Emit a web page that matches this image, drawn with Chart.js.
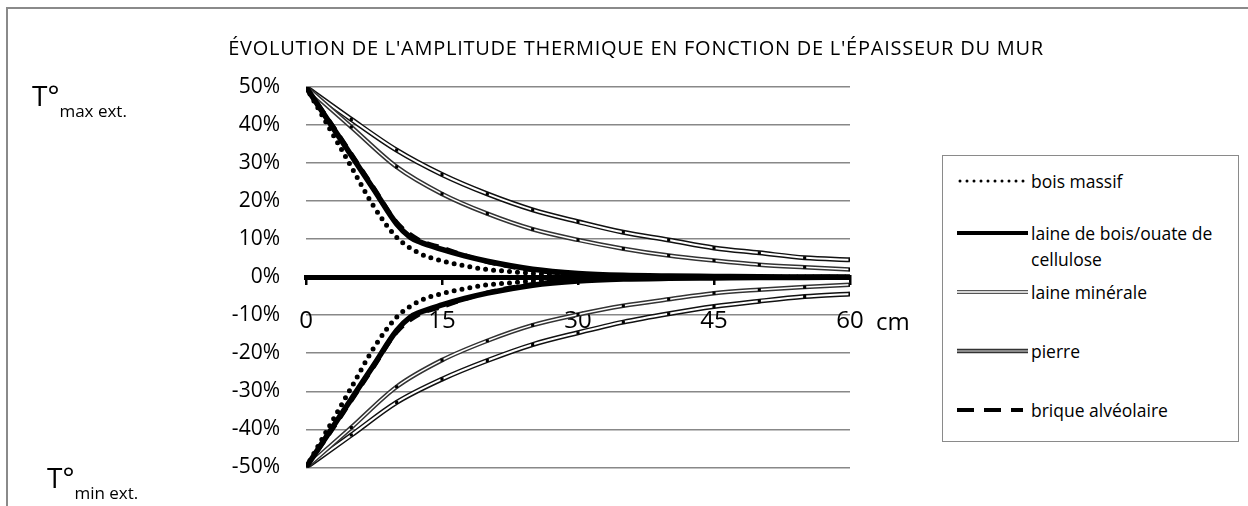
<!DOCTYPE html>
<html>
<head>
<meta charset="utf-8">
<script src="https://cdn.jsdelivr.net/npm/chart.js@4.4.1/dist/chart.umd.min.js"></script>
<style>
  html, body { margin:0; padding:0; background:#fff; }
  body { width:1248px; height:506px; position:relative; overflow:hidden; font-family:"Open Sans", sans-serif; color:#000; }
  #frame { position:absolute; left:6px; top:7px; width:1400px; height:700px; border-left:2px solid #8a8a8a; border-top:2px solid #8a8a8a; }
  #wrap { position:absolute; left:0; top:0; width:1248px; height:506px; }
  #title { position:absolute; left:0; width:1272px; top:34px; text-align:center; font-size:20px; letter-spacing:0.75px; white-space:nowrap; }
  .tlab { position:absolute; font-size:28px; line-height:1; white-space:nowrap; }
  .tlab sub { font-size:17px; vertical-align:-11px; }
  #cm { position:absolute; left:876px; top:309px; font-size:24px; line-height:1; }
  #legend { position:absolute; left:942px; top:155px; width:297px; height:287px; border:1.5px solid #8a8a8a; box-sizing:border-box; background:#fff; }
  .li { position:absolute; left:0; font-size:17.5px; line-height:26px; }
  .li svg { position:absolute; left:0; top:0; }
  .li span { position:absolute; left:88px; top:0; white-space:nowrap; }
</style>
</head>
<body>
<div id="frame"></div>
<div id="wrap"><canvas id="c" width="1248" height="506"></canvas></div>
<div id="title">ÉVOLUTION DE L'AMPLITUDE THERMIQUE EN FONCTION DE L'ÉPAISSEUR DU MUR</div>
<div class="tlab" style="left:32px;top:81px;">T°<sub>max ext.</sub></div>
<div class="tlab" style="left:47px;top:463px;">T°<sub>min ext.</sub></div>
<div id="cm">cm</div>
<div id="legend"></div>
<script>
// ---- data (x in cm, y in %) ----
const xBoisMassif = [0, 2.5, 5, 7.5, 10, 12.5, 15, 17.5, 20, 22.5, 25, 30, 35, 40, 50, 60];
const boisMassifHaut = [50, 39.5, 29, 18.5, 10.5, 6.3, 4.3, 3.0, 2.0, 1.5, 1.0, 0.5, 0.2, 0.1, 0, 0];
const boisMassifBas  = [-50, -39.5, -29, -18.5, -10.5, -6.3, -4.3, -3.0, -2.0, -1.5, -1.0, -0.5, -0.2, -0.1, 0, 0];

const xLaineBois = [0, 2.5, 5, 7.5, 10, 11.5, 12.5, 15, 17.5, 20, 25, 30, 35, 40, 45, 50, 55, 60];
const laineBoisHaut = [50, 41, 32, 23, 14, 10.5, 9.3, 7.3, 5.6, 4.2, 2.1, 1.0, 0.5, 0.3, 0.2, 0.1, 0.05, 0];
const laineBoisBas  = [-50, -41, -32, -23, -14, -10.5, -9.3, -7.3, -5.6, -4.2, -2.1, -1.0, -0.5, -0.3, -0.2, -0.1, -0.05, 0];

const x5 = [0, 5, 10, 15, 20, 25, 30, 35, 40, 45, 50, 55, 60];
const laineMineraleHaut = [50, 39.5, 29, 21.9, 16.7, 12.6, 9.8, 7.5, 5.7, 4.4, 3.3, 2.6, 2.0];
const laineMineraleBas  = [-50, -39.5, -28.8, -21.8, -16.7, -12.6, -9.8, -7.5, -5.8, -4.2, -3.3, -2.6, -2.0];
const pierreHaut = [50, 41.5, 33.4, 27, 21.9, 17.7, 14.6, 11.8, 9.8, 7.7, 6.4, 5.1, 4.6];
const pierreBas  = [-50, -41.5, -32.9, -26.8, -21.9, -17.7, -14.6, -11.8, -9.6, -7.7, -6.3, -5.1, -4.4];

const xBrique = [0, 2.5, 5, 7.5, 10, 12.5, 15, 17.5, 20, 25, 30, 35, 40, 50, 60];
const briqueHaut = [50, 41.5, 32.5, 23.5, 14.5, 9.8, 7.8, 5.8, 4.0, 1.8, 0.7, 0.3, 0.1, 0, 0];
const briqueBas  = [-50, -41.5, -32.5, -23.5, -14.5, -9.8, -7.8, -5.8, -4.0, -1.8, -0.7, -0.3, -0.1, 0, 0];

const xTicks = [0, 15, 30, 45, 60];
const yTicks = [-50, -40, -30, -20, -10, 0, 10, 20, 30, 40, 50];
const seriesNames = ["bois massif", "laine de bois/ouate de cellulose", "laine minérale", "pierre", "brique alvéolaire"];
const chartTitle = "ÉVOLUTION DE L'AMPLITUDE THERMIQUE EN FONCTION DE L'ÉPAISSEUR DU MUR";

function pts(xs, ys) { return xs.map((x, i) => ({ x: x, y: ys[i] })); }

const datasets = [];
function add(label, xs, ys, style, order) {
  datasets.push(Object.assign({
    label: label, data: pts(xs, ys), order: order,
    pointRadius: 0, fill: false, cubicInterpolationMode: 'monotone', borderCapStyle: 'butt'
  }, style));
}
// brique (bottom)
[briqueHaut, briqueBas].forEach(d => add(seriesNames[4], xBrique, d, { borderColor: '#000', borderWidth: 4, borderDash: [12, 8] }, 90));
// double lines
[[pierreHaut, pierreBas, '#111', 5, 2], [laineMineraleHaut, laineMineraleBas, '#333', 4.5, 1.5]].forEach((s, k) => {
  const name = k === 0 ? seriesNames[3] : seriesNames[2];
  [s[0], s[1]].forEach(d => {
    add(name, x5, d, { borderColor: s[2], borderWidth: s[3] }, 80 - k * 2);
    add(name, x5, d, { borderColor: '#fff', borderWidth: s[4], pointRadius: (ctx) => ctx.dataIndex === 0 ? 0 : 2.2, pointBackgroundColor: '#000', pointBorderWidth: 0, pointStyle: 'rect' }, 79 - k * 2);
  });
});
// bois massif dotted
[boisMassifHaut, boisMassifBas].forEach(d => add(seriesNames[0], xBoisMassif, d, { borderColor: '#000', borderWidth: 5, borderDash: [0, 8], borderCapStyle: 'round' }, 60));
// laine de bois thick
[laineBoisHaut, laineBoisBas].forEach(d => add(seriesNames[1], xLaineBois, d, { borderColor: '#000', borderWidth: 5.5 }, 50));

new Chart(document.getElementById('c'), {
  type: 'line',
  data: { datasets: datasets },
  options: {
    responsive: false, animation: false, events: [],
    layout: { padding: { top: 87, bottom: 31, left: 0, right: 398 } },
    plugins: { legend: { display: false }, title: { display: false }, tooltip: { enabled: false } },
    scales: {
      x: {
        type: 'linear', min: 0, max: 60, position: { y: 0 },
        afterBuildTicks: (s) => { s.ticks = xTicks.map(v => ({ value: v })); },
        ticks: { font: { family: 'Open Sans', size: 24 }, color: '#000', padding: 25, maxRotation: 0, autoSkip: false },
        grid: { drawOnChartArea: false, drawTicks: true, tickLength: 5, color: '#000', lineWidth: 2.5 },
        border: { display: true, color: '#000', width: 5 }
      },
      y: {
        type: 'linear', min: -50, max: 50,
        afterBuildTicks: (s) => { s.ticks = yTicks.map(v => ({ value: v })); },
        afterFit: (s) => { s.width = 306; },
        ticks: { font: { family: 'Open Sans', size: 21 }, color: '#000', padding: 26, callback: (v) => v + '%' },
        grid: { color: '#888', lineWidth: 1.6, drawTicks: false },
        border: { display: false }
      }
    }
  }
});

// HTML legend
const leg = document.getElementById('legend');
const items = [
  { y: 12, svg: '<line x1="17" y1="13" x2="84" y2="13" stroke="#000" stroke-width="3" stroke-dasharray="0 7" stroke-linecap="round"/>', text: seriesNames[0] },
  { y: 64, svg: '<line x1="14" y1="13" x2="85" y2="13" stroke="#000" stroke-width="4"/>', text: 'laine de bois/ouate de<br>cellulose' },
  { y: 123, svg: '<line x1="14" y1="13" x2="85" y2="13" stroke="#555" stroke-width="4"/><line x1="14" y1="13" x2="85" y2="13" stroke="#fff" stroke-width="1.3"/>', text: seriesNames[2] },
  { y: 182, svg: '<line x1="14" y1="13" x2="85" y2="13" stroke="#333" stroke-width="4.5"/><line x1="14" y1="13" x2="85" y2="13" stroke="#aaa" stroke-width="1.5"/>', text: seriesNames[3] },
  { y: 241, svg: '<line x1="14" y1="13" x2="80" y2="13" stroke="#000" stroke-width="4" stroke-dasharray="17 10"/>', text: seriesNames[4] }
];
items.forEach(it => {
  const d = document.createElement('div');
  d.className = 'li';
  d.style.top = it.y + 'px';
  d.innerHTML = '<svg width="90" height="26">' + it.svg + '</svg><span>' + it.text + '</span>';
  leg.appendChild(d);
});
</script>
</body>
</html>
